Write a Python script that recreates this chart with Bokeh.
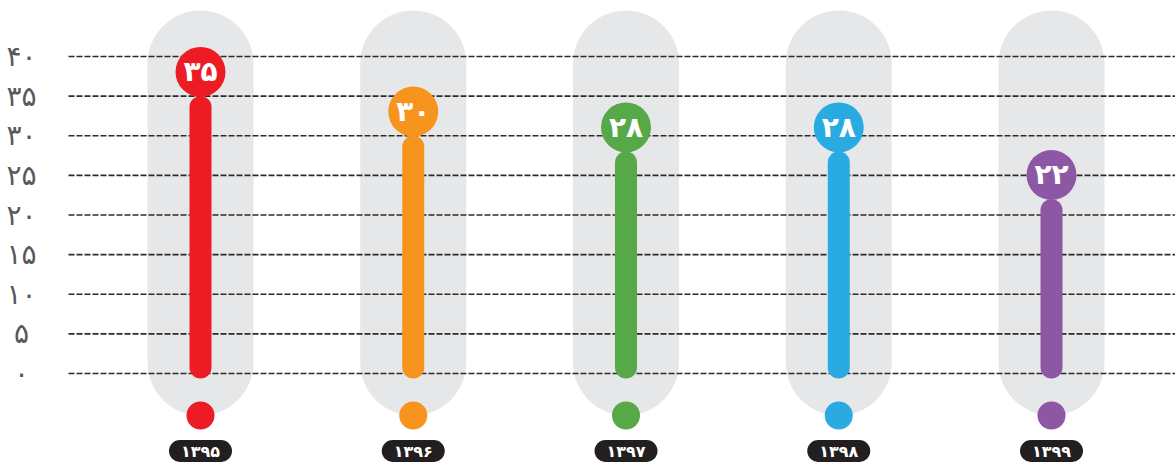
from bokeh.plotting import figure
from bokeh.models import Range1d
from bokeh.core.properties import value
from bokeh.embed import file_html
from bokeh.resources import INLINE

# ---- data ----
years = ["۱۳۹۵", "۱۳۹۶", "۱۳۹۷", "۱۳۹۸", "۱۳۹۹"]
values = [35, 30, 28, 28, 22]
value_labels = ["۳۵", "۳۰", "۲۸", "۲۸", "۲۲"]
colors = ["#ed1c24", "#f7941d", "#57a846", "#29abe2", "#8e57a3"]
tick_values = [0, 5, 10, 15, 20, 25, 30, 35, 40]
tick_labels = ["۰", "۵", "۱۰", "۱۵", "۲۰", "۲۵", "۳۰", "۳۵", "۴۰"]

# ---- layout ----
W, H = 1175, 462
x0_px, step_px = 200.0, 212.75
x_start = -x0_px / step_px
x_end = (W - x0_px) / step_px
px_per_unit = 7.925
zero_px = 373.0
y_end = zero_px / px_per_unit
y_start = -(H - zero_px) / px_per_unit

def px_to_x(px):
    return (px - x0_px) / step_px

xs = list(range(len(values)))

p = figure(width=W, height=H, x_range=Range1d(x_start, x_end),
           y_range=Range1d(y_start, y_end), output_backend="svg",
           toolbar_location=None, min_border=0, outline_line_color=None,
           x_axis_location=None, y_axis_location=None)
p.grid.visible = False
p.background_fill_color = "white"
p.border_fill_color = "white"

# background capsules
p.vbar(x=xs, width=106 / step_px, top=45.8, bottom=-5.3,
       fill_color="#e6e7e8", line_color=None, border_radius=53)

# dashed grid lines
p.segment(x0=[px_to_x(68)] * len(tick_values), y0=tick_values,
          x1=[x_end] * len(tick_values), y1=tick_values,
          line_color="#2b2b2b", line_dash="6 2", line_width=1.6)

# tick labels
p.text(x=[px_to_x(21)] * len(tick_labels), y=tick_values, text=tick_labels,
       text_align="center", text_baseline="middle", text_color="#58595b",
       text_font=value("DejaVu Sans"), text_font_size="28px")

# bars
p.vbar(x=xs, width=22 / step_px, top=values, bottom=-0.63,
       fill_color=colors, line_color=None, border_radius=11)

# value circles
circle_y = [v + 3.05 for v in values]
p.scatter(x=xs, y=circle_y, size=50, fill_color=colors, line_color=None)
p.text(x=xs, y=circle_y, text=value_labels, text_align="center",
       text_baseline="middle", text_color="white", text_font_style="bold",
       text_font=value("DejaVu Sans"), text_font_size="28px")

# bottom dots
p.scatter(x=xs, y=[-5.3] * len(xs), size=28, fill_color=colors, line_color=None)

# year pills
p.rect(x=xs, y=[-9.78] * len(xs), width=63, height=22, width_units="screen",
       height_units="screen", fill_color="#231f20", line_color=None,
       border_radius=11)
p.text(x=xs, y=[-9.78] * len(xs), text=years, text_align="center",
       text_baseline="middle", text_color="white", text_font_style="bold",
       text_font=value("DejaVu Sans"), text_font_size="16px")

open("out.html", "w").write(file_html(p, INLINE))
